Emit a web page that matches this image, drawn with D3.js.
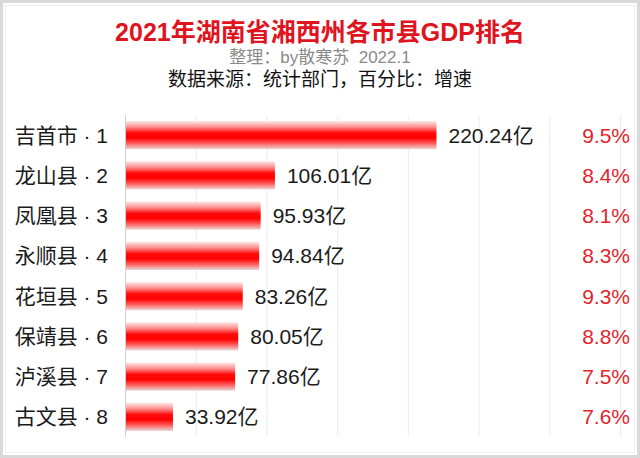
<!DOCTYPE html>
<html><head><meta charset="utf-8">
<script src="https://cdn.jsdelivr.net/npm/d3@7"></script>
<style>
html,body{margin:0;padding:0;background:#fff;}
svg{display:block;font-family:"Liberation Sans","Noto Sans CJK SC",sans-serif;}
</style></head>
<body>
<svg id="c" width="640" height="458"></svg>
<script>
const categories = ["吉首市 · 1","龙山县 · 2","凤凰县 · 3","永顺县 · 4","花垣县 · 5","保靖县 · 6","泸溪县 · 7","古文县 · 8"];
const gdpValues = [220.24, 106.01, 95.93, 94.84, 83.26, 80.05, 77.86, 33.92];
const growthRates = [9.5, 8.4, 8.1, 8.3, 9.3, 8.8, 7.5, 7.6];
const xTicks = [0, 50, 100, 150, 200, 250, 300, 350];
const titleText = "2021年湖南省湘西州各市县GDP排名";
const subtitle1 = "整理：by散寒苏  2022.1";
const subtitle2 = "数据来源：统计部门，百分比：增速";

const svg = d3.select("#c");
const W = 640, H = 458;

// frame
svg.append("rect").attr("x",1.5).attr("y",1.5).attr("width",W-3).attr("height",H-3)
  .attr("fill","#fff").attr("stroke","#d9d9d9").attr("stroke-width",3);
svg.append("rect").attr("x",5.5).attr("y",5.5).attr("width",W-11).attr("height",H-11)
  .attr("fill","none").attr("stroke","#f0f0f0").attr("stroke-width",1);

const defs = svg.append("defs");
const grad = defs.append("linearGradient").attr("id","barGrad")
  .attr("x1",0).attr("y1",0).attr("x2",0).attr("y2",1);
[[0,"#fbe8e8"],[0.22,"#ff8a8a"],[0.42,"#ff0a0a"],[0.6,"#ff0000"],[0.8,"#ff6060"],[1,"#ead8d8"]]
  .forEach(([o,c])=>grad.append("stop").attr("offset",o).attr("stop-color",c));

const x = d3.scaleLinear().domain([0,350]).range([125,620]);
const y = d3.scaleBand().domain(categories).range([115,437]).paddingInner(0.3).paddingOuter(0.15);

// gridlines
svg.append("g").selectAll("line").data(xTicks).join("line")
  .attr("x1",d=>x(d)+0.5).attr("x2",d=>x(d)+0.5).attr("y1",115).attr("y2",437)
  .attr("stroke",(d,i)=>i===0?"#d0d0d0":"#ececec").attr("stroke-width",1);

// bars
svg.append("g").selectAll("rect").data(gdpValues).join("rect")
  .attr("x",x(0)+1).attr("y",(d,i)=>y(categories[i]))
  .attr("width",d=>x(d)-x(0)-1).attr("height",y.bandwidth())
  .attr("fill","url(#barGrad)");

// category labels
svg.append("g").selectAll("text").data(categories).join("text")
  .attr("x",108).attr("y",d=>y(d)+y.bandwidth()/2).attr("dy","0.36em")
  .attr("text-anchor","end").attr("font-size",21).attr("fill","#1a1a1a").text(d=>d);

// value labels
svg.append("g").selectAll("text").data(gdpValues).join("text")
  .attr("x",d=>x(d)+12).attr("y",(d,i)=>y(categories[i])+y.bandwidth()/2).attr("dy","0.36em")
  .attr("font-size",21).attr("fill","#1a1a1a").text(d=>d3.format(".2f")(d)+"亿");

// growth labels
svg.append("g").selectAll("text").data(growthRates).join("text")
  .attr("x",630).attr("y",(d,i)=>y(categories[i])+y.bandwidth()/2).attr("dy","0.36em")
  .attr("text-anchor","end").attr("font-size",21).attr("fill","#e3242b").text(d=>d3.format(".1f")(d)+"%");

// titles
svg.append("text").attr("x",320).attr("y",41).attr("text-anchor","middle")
  .attr("font-size",25).attr("font-weight","bold").attr("fill","#e0141e").text(titleText);
svg.append("text").attr("x",320).attr("y",63).attr("text-anchor","middle")
  .attr("font-size",17).attr("fill","#8a8a8a").style("white-space","pre").text(subtitle1);
svg.append("text").attr("x",320).attr("y",86).attr("text-anchor","middle")
  .attr("font-size",19).attr("fill","#111").text(subtitle2);
</script>
</body></html>
